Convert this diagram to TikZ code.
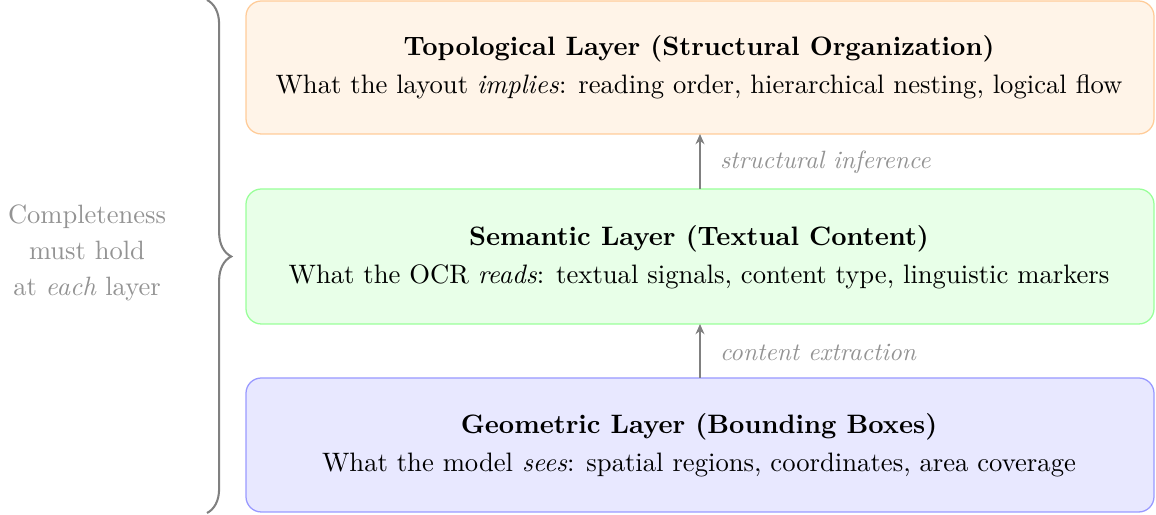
\documentclass[tikz,border=0pt]{standalone}
\usetikzlibrary{decorations.pathreplacing,arrows.meta}
\begin{document}
\begin{tikzpicture}[x=0.392pt,y=-0.392pt,
  layerbox/.style={draw=#1!40, fill=#1!9, rounded corners=6pt, line width=0.5pt},
  layertext/.style={align=center, font=\fontsize{10.45}{12.8}\selectfont},
  flowarrow/.style={-{Stealth[length=4pt,width=3.5pt]}, gray, line width=0.8pt},
  flowlabel/.style={font=\fontsize{9.8}{12}\selectfont\itshape, text=gray!85, anchor=west},
  sidetext/.style={text=gray!85, align=center, font=\fontsize{10.4}{14}\selectfont}]
\useasboundingbox (0,0) rectangle (1156,515);
\draw[layerbox=orange] (246,1) rectangle (1154,134);
\node[layertext] (top) at (699,67) {\textbf{Topological Layer (Structural Organization)}\\[2pt]What the layout \emph{implies}: reading order, hierarchical nesting, logical flow};
\draw[layerbox=green] (246,189) rectangle (1154,324);
\node[layertext] (mid) at (699,257) {\textbf{Semantic Layer (Textual Content)}\\[2pt]What the OCR \emph{reads}: textual signals, content type, linguistic markers};
\draw[layerbox=blue] (246,378) rectangle (1154,512);
\node[layertext] (bot) at (699,445.5) {\textbf{Geometric Layer (Bounding Boxes)}\\[2pt]What the model \emph{sees}: spatial regions, coordinates, area coverage};
\coordinate (tb) at (700,134);
\coordinate (mt) at (700,189);
\coordinate (mb) at (700,324);
\coordinate (bt) at (700,378);
\draw[flowarrow] (mt) -- (tb);
\draw[flowarrow] (bt) -- (mb);
\node[flowlabel] (l1) at (711,162) {structural inference};
\node[flowlabel] (l2) at (711,352) {content extraction};
\coordinate (bra) at (207,0);
\coordinate (brb) at (207,513);
\draw[gray, line width=0.8pt, decorate, decoration={brace, amplitude=9.5pt}] (bra) -- (brb);
\node[sidetext] (side) at (87,253) {Completeness\\must hold\\at \emph{each} layer};
\end{tikzpicture}
\end{document}
